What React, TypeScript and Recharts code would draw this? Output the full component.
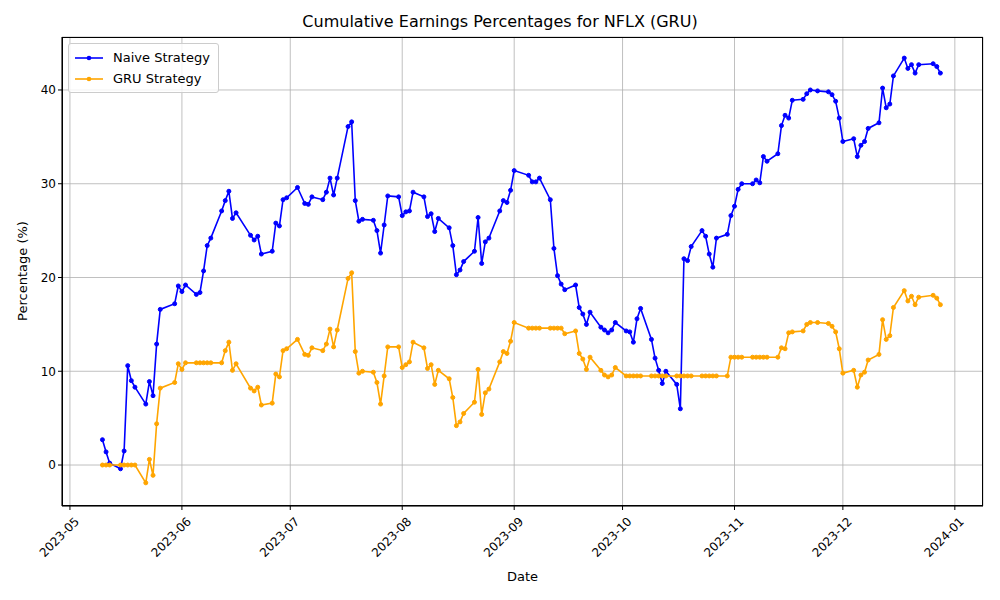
import React from 'react';
import { LineChart, Line, XAxis, YAxis, CartesianGrid } from 'recharts';

const dates = [
    '2023-05-10', '2023-05-11', '2023-05-12', '2023-05-15', '2023-05-16', '2023-05-17', '2023-05-18', '2023-05-19',
    '2023-05-22', '2023-05-23', '2023-05-24', '2023-05-25', '2023-05-26', '2023-05-30', '2023-05-31', '2023-06-01',
    '2023-06-02', '2023-06-05', '2023-06-06', '2023-06-07', '2023-06-08', '2023-06-09', '2023-06-12', '2023-06-13',
    '2023-06-14', '2023-06-15', '2023-06-16', '2023-06-20', '2023-06-21', '2023-06-22', '2023-06-23', '2023-06-26',
    '2023-06-27', '2023-06-28', '2023-06-29', '2023-06-30', '2023-07-03', '2023-07-05', '2023-07-06', '2023-07-07',
    '2023-07-10', '2023-07-11', '2023-07-12', '2023-07-13', '2023-07-14', '2023-07-17', '2023-07-18', '2023-07-19',
    '2023-07-20', '2023-07-21', '2023-07-24', '2023-07-25', '2023-07-26', '2023-07-27', '2023-07-28', '2023-07-31',
    '2023-08-01', '2023-08-02', '2023-08-03', '2023-08-04', '2023-08-07', '2023-08-08', '2023-08-09', '2023-08-10',
    '2023-08-11', '2023-08-14', '2023-08-15', '2023-08-16', '2023-08-17', '2023-08-18', '2023-08-21', '2023-08-22',
    '2023-08-23', '2023-08-24', '2023-08-25', '2023-08-28', '2023-08-29', '2023-08-30', '2023-08-31', '2023-09-01',
    '2023-09-05', '2023-09-06', '2023-09-07', '2023-09-08', '2023-09-11', '2023-09-12', '2023-09-13', '2023-09-14',
    '2023-09-15', '2023-09-18', '2023-09-19', '2023-09-20', '2023-09-21', '2023-09-22', '2023-09-25', '2023-09-26',
    '2023-09-27', '2023-09-28', '2023-09-29', '2023-10-02', '2023-10-03', '2023-10-04', '2023-10-05', '2023-10-06',
    '2023-10-09', '2023-10-10', '2023-10-11', '2023-10-12', '2023-10-13', '2023-10-16', '2023-10-17', '2023-10-18',
    '2023-10-19', '2023-10-20', '2023-10-23', '2023-10-24', '2023-10-25', '2023-10-26', '2023-10-27', '2023-10-30',
    '2023-10-31', '2023-11-01', '2023-11-02', '2023-11-03', '2023-11-06', '2023-11-07', '2023-11-08', '2023-11-09',
    '2023-11-10', '2023-11-13', '2023-11-14', '2023-11-15', '2023-11-16', '2023-11-17', '2023-11-20', '2023-11-21',
    '2023-11-22', '2023-11-24', '2023-11-27', '2023-11-28', '2023-11-29', '2023-11-30', '2023-12-01', '2023-12-04',
    '2023-12-05', '2023-12-06', '2023-12-07', '2023-12-08', '2023-12-11', '2023-12-12', '2023-12-13', '2023-12-14',
    '2023-12-15', '2023-12-18', '2023-12-19', '2023-12-20', '2023-12-21', '2023-12-22', '2023-12-26', '2023-12-27',
    '2023-12-28',
];

const naive = [
    2.7, 1.4, 0.2, -0.4, 1.5, 10.6, 9.0, 8.3, 6.5, 8.9, 7.4, 12.9, 16.6, 17.2, 19.1, 18.5,
    19.2, 18.2, 18.4, 20.7, 23.4, 24.2, 27.1, 28.2, 29.2, 26.3, 26.9, 24.5, 24.0, 24.4, 22.5, 22.8,
    25.8, 25.5, 28.3, 28.5, 29.6, 27.9, 27.8, 28.6, 28.3, 29.1, 30.6, 28.8, 30.6, 36.1, 36.6, 28.2,
    26.0, 26.2, 26.1, 25.0, 22.6, 25.6, 28.7, 28.6, 26.6, 27.0, 27.1, 29.1, 28.6, 26.5, 26.8, 24.9,
    26.3, 25.3, 23.4, 20.3, 20.8, 21.7, 22.8, 26.4, 21.5, 23.8, 24.2, 27.1, 28.2, 28.0, 29.3, 31.4,
    30.9, 30.2, 30.2, 30.6, 28.3, 23.1, 20.2, 19.3, 18.7, 19.2, 16.8, 16.1, 15.0, 16.3, 14.7, 14.4,
    14.1, 14.4, 15.2, 14.3, 14.2, 13.1, 15.6, 16.7, 13.4, 11.4, 10.1, 8.7, 10.0, 8.6, 6.0, 22.0,
    21.8, 23.3, 25.0, 24.4, 22.5, 21.1, 24.2, 24.6, 26.6, 27.6, 29.4, 30.0, 30.0, 30.4, 30.1, 32.9,
    32.4, 33.2, 36.2, 37.3, 37.0, 38.9, 39.0, 39.6, 40.0, 39.9, 39.8, 39.5, 38.8, 37.0, 34.5, 34.8,
    32.9, 34.1, 34.5, 35.9, 36.5, 40.2, 38.1, 38.5, 41.5, 43.4, 42.3, 42.7, 41.8, 42.7, 42.8, 42.5,
    41.8,
];

const gru = [
    0, 0, 0, 0, 0, 0, 0, 0, -1.9, 0.6, -1.1, 4.4, 8.2, 8.8, 10.8, 10.2,
    10.9, 10.9, 10.9, 10.9, 10.9, 10.9, 10.9, 12.2, 13.1, 10.1, 10.8, 8.2, 7.9, 8.3, 6.4, 6.6,
    9.7, 9.4, 12.2, 12.4, 13.4, 11.8, 11.7, 12.5, 12.2, 12.9, 14.5, 12.6, 14.4, 19.9, 20.5, 12.1,
    9.8, 10.0, 9.9, 8.8, 6.5, 9.5, 12.6, 12.6, 10.4, 10.7, 11.0, 13.1, 12.5, 10.3, 10.7, 8.6,
    10.1, 9.2, 7.2, 4.2, 4.6, 5.5, 6.7, 10.2, 5.4, 7.7, 8.1, 11.0, 12.1, 11.9, 13.2, 15.2,
    14.6, 14.6, 14.6, 14.6, 14.6, 14.6, 14.6, 14.6, 14.0, 14.3, 11.9, 11.3, 10.2, 11.5, 10.1, 9.6,
    9.4, 9.6, 10.4, 9.5, 9.5, 9.5, 9.5, 9.5, 9.5, 9.5, 9.5, 9.5, 9.5, 9.5, 9.5, 9.5,
    9.5, 9.5, 9.5, 9.5, 9.5, 9.5, 9.5, 9.5, 11.5, 11.5, 11.5, 11.5, 11.5, 11.5, 11.5, 11.5,
    11.5, 11.5, 12.5, 12.4, 14.1, 14.2, 14.3, 15.0, 15.2, 15.2, 15.1, 14.8, 14.2, 12.4, 9.8, 10.1,
    8.3, 9.6, 9.9, 11.2, 11.8, 15.5, 13.4, 13.8, 16.8, 18.6, 17.5, 18.0, 17.1, 17.9, 18.1, 17.8,
    17.1,
];

const monthTicks = ['2023-05', '2023-06', '2023-07', '2023-08', '2023-09', '2023-10', '2023-11', '2023-12', '2024-01'];
const yTicks = [0, 10, 20, 30, 40];

const DAY = 86400000;
const origin = Date.UTC(2023, 4, 1);
const toDay = (s: string) => {
    const [y, m, d] = s.split('-').map(Number);
    return (Date.UTC(y, m - 1, d || 1) - origin) / DAY;
};

const data = dates.map((d, i) => ({ x: toDay(d), naive: naive[i], gru: gru[i] }));
const xTicks = monthTicks.map(toDay);
const labelFor = (v: number) => monthTicks[xTicks.indexOf(v)] ?? '';

const FONT = 'DejaVu Sans, sans-serif';

const DateTick = (props: any) => {
    const { x, y, payload } = props;
    return (
        <g transform={`translate(${x},${y + 6})`}>
            <text textAnchor="end" fontSize={12} fill="#000" fontFamily={FONT} transform="rotate(-45)" dy={10} dx={4}>
                {labelFor(payload.value)}
            </text>
        </g>
    );
};

export default function App() {
    return (
        <div style={{ position: 'absolute', left: 0, top: 0, width: 1000, height: 600, background: '#fff', fontFamily: FONT }}>
            <div style={{ position: 'absolute', top: 12, width: 1000, textAlign: 'center', fontSize: 16 }}>
                Cumulative Earnings Percentages for NFLX (GRU)
            </div>
            <div style={{ position: 'absolute', top: 569, left: 62, width: 921, textAlign: 'center', fontSize: 13 }}>
                Date
            </div>
            <div style={{ position: 'absolute', left: 22, top: 271, fontSize: 13, transform: 'translate(-50%,-50%) rotate(-90deg)', whiteSpace: 'nowrap' }}>
                Percentage (%)
            </div>
            <LineChart width={1000} height={600} data={data} margin={{ top: 37, right: 17, bottom: 24, left: 10 }}>
                <CartesianGrid stroke="#b0b0b0" strokeWidth={0.8} />
                <XAxis
                    dataKey="x"
                    type="number"
                    domain={[-2.2, 252.8]}
                    ticks={xTicks}
                    tick={<DateTick />}
                    height={70}
                    interval={0}
                    stroke="#000"
                    tickSize={4}
                />
                <YAxis
                    type="number"
                    domain={[-4.37, 45.65]}
                    ticks={yTicks}
                    width={52}
                    tick={{ fontSize: 12, fill: '#000', fontFamily: FONT }}
                    stroke="#000"
                    tickSize={4}
                    allowDataOverflow
                />
                <Line dataKey="naive" stroke="#0000ff" strokeWidth={1.6} dot={{ r: 2, fill: '#0000ff', stroke: '#0000ff', strokeWidth: 1 }} isAnimationActive={false} />
                <Line dataKey="gru" stroke="#ffa500" strokeWidth={1.6} dot={{ r: 2, fill: '#ffa500', stroke: '#ffa500', strokeWidth: 1 }} isAnimationActive={false} />
            </LineChart>
            <div style={{ position: 'absolute', left: 62, top: 37, width: 921, height: 469, boxSizing: 'border-box', border: '1px solid #000', pointerEvents: 'none' }} />
            <div style={{ position: 'absolute', left: 68, top: 43, border: '1px solid #ccc', borderRadius: 3, padding: '3px 8px 3px 6px', fontSize: 13, background: 'rgba(255,255,255,0.8)' }}>
                {[['Naive Strategy', '#0000ff'], ['GRU Strategy', '#ffa500']].map(([name, c]) => (
                    <div key={name} style={{ display: 'flex', alignItems: 'center', height: 21 }}>
                        <svg width={30} height={10} style={{ marginRight: 8 }}>
                            <line x1={0} y1={5} x2={28} y2={5} stroke={c} strokeWidth={1.6} />
                            <circle cx={14} cy={5} r={2.3} fill={c} />
                        </svg>
                        {name}
                    </div>
                ))}
            </div>
        </div>
    );
}
